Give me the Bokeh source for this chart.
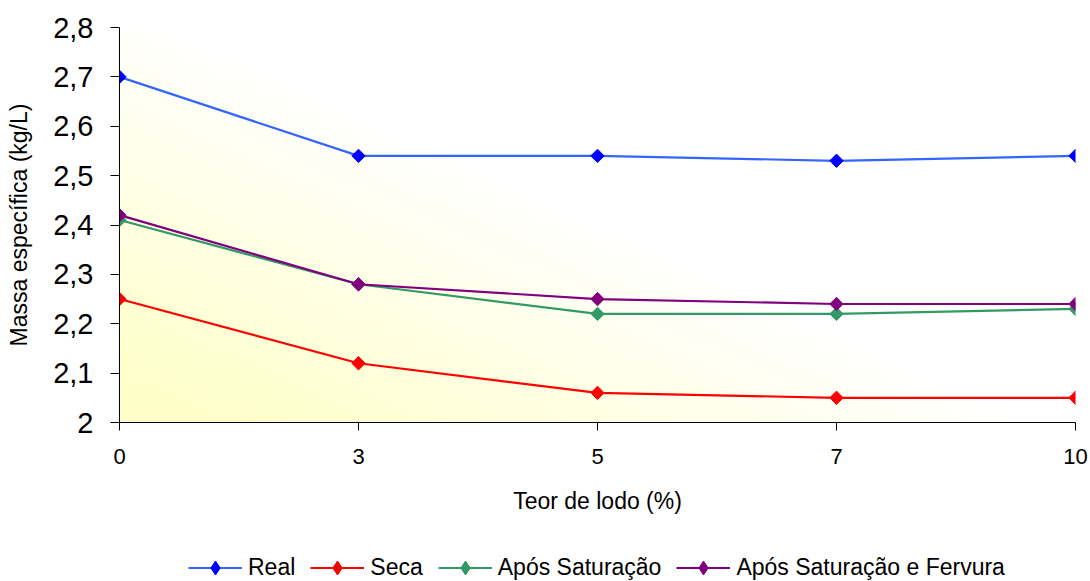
import numpy as np
from bokeh.plotting import figure
from bokeh.layouts import column
from bokeh.models import (Range1d, FixedTicker, CustomJSTickFormatter, Legend, LegendItem)
from bokeh.embed import file_html
from bokeh.resources import INLINE

# Teor de lodo (%) - categories drawn at equal spacing
teor = ["0", "3", "5", "7", "10"]

# Massa específica (kg/L)
real = [2.70, 2.54, 2.54, 2.53, 2.54]
seca = [2.25, 2.12, 2.06, 2.05, 2.05]
apos_sat = [2.41, 2.28, 2.22, 2.22, 2.23]
apos_sat_ferv = [2.42, 2.28, 2.25, 2.24, 2.24]

series = [
    ("Real", real, "#3366FF", "#0000FF"),
    ("Seca", seca, "#FF0000", "#FF0000"),
    ("Após Saturação", apos_sat, "#339966", "#339966"),
    ("Após Saturação e Fervura", apos_sat_ferv, "#800080", "#800080"),
]

FONT = "Liberation Sans"
W, H_MAIN, H_LEG = 1090, 520, 61
xs = list(range(len(teor)))

p = figure(width=W, height=H_MAIN, output_backend="svg", toolbar_location=None,
           x_range=Range1d(0, len(teor) - 1), y_range=Range1d(2.0, 2.8),
           min_border_left=119, min_border_right=15, min_border_top=27,
           min_border_bottom=98)
p.outline_line_color = None
p.background_fill_color = "white"
p.border_fill_color = "white"
p.xgrid.visible = False
p.ygrid.visible = False

# Diagonal yellow-to-white plot-area fill
gh, gw = 160, 400
u = np.linspace(0, 1, gw)[None, :]
w = np.linspace(0, 1, gh)[:, None]
t = np.clip((u + w * 0.9 - 0.1) / 0.85, 0, 1)
r = np.full((gh, gw), 255, dtype=np.uint32)
g = np.full((gh, gw), 255, dtype=np.uint32)
b = (202 + t * 53).astype(np.uint32)
a = np.full((gh, gw), 255, dtype=np.uint32)
img = (a << 24) | (b << 16) | (g << 8) | r
p.image_rgba(image=[img], x=0, y=2.0, dw=len(teor) - 1, dh=0.8)

for name, vals, lcol, mcol in series:
    p.line(xs, vals, line_color=lcol, line_width=2.2)
    p.scatter(xs, vals, marker="square", angle=np.pi / 4, size=9.5,
              fill_color=mcol, line_color=mcol)

# Axes
p.xaxis.ticker = FixedTicker(ticks=xs)
p.xaxis.major_label_overrides = {i: s for i, s in enumerate(teor)}
p.yaxis.ticker = FixedTicker(ticks=[2.0, 2.1, 2.2, 2.3, 2.4, 2.5, 2.6, 2.7, 2.8])
p.yaxis.formatter = CustomJSTickFormatter(code="""
    const v = Math.round(tick * 10) / 10;
    return (Math.round(v * 10) % 10 === 0) ? v.toFixed(0) : v.toFixed(1).replace('.', ',');
""")

for ax in (p.xaxis[0], p.yaxis[0]):
    ax.axis_line_color = "black"
    ax.axis_line_width = 1
    ax.major_tick_line_color = "black"
    ax.major_tick_in = 0
    ax.minor_tick_line_color = None
    ax.major_label_text_font = FONT
    ax.major_label_text_color = "black"
    ax.axis_label_text_font = FONT
    ax.axis_label_text_font_style = "normal"
    ax.axis_label_text_color = "black"
    ax.axis_label_text_font_size = "23px"

p.xaxis.axis_label = "Teor de lodo (%)"
p.xaxis.major_tick_out = 8
p.xaxis.major_label_standoff = 18
p.xaxis.major_label_text_font_size = "22px"
p.xaxis.axis_label_standoff = 21

p.yaxis.axis_label = "Massa específica (kg/L)"
p.yaxis.major_tick_out = 9
p.yaxis.major_label_standoff = 17
p.yaxis.major_label_text_font_size = "29px"
p.yaxis.axis_label_standoff = 18

# Legend strip under the chart (its frame lines up with the chart's frame)
pl = figure(width=W, height=H_LEG, output_backend="svg", toolbar_location=None,
            x_range=Range1d(0, 1), y_range=Range1d(0, 1),
            x_axis_location=None, y_axis_location=None, min_border=0)
pl.outline_line_color = None
pl.xgrid.visible = False
pl.ygrid.visible = False
pl.background_fill_color = "white"
pl.border_fill_color = "white"

items = []
for name, vals, lcol, mcol in series:
    ln = pl.line(np.array([np.nan]), np.array([np.nan]), line_color=lcol, line_width=2.2)
    mk = pl.scatter(np.array([np.nan]), np.array([np.nan]), marker="diamond", size=14,
                    fill_color=mcol, line_color=mcol)
    items.append(LegendItem(label=name, renderers=[ln, mk]))

legend = Legend(items=items, orientation="horizontal", location=(69, -4),
                padding=0, margin=0, spacing=15, glyph_width=54, glyph_height=35,
                label_standoff=6, label_text_font=FONT, label_text_font_size="23px",
                label_text_color="black", background_fill_alpha=0,
                border_line_color=None)
pl.add_layout(legend, "center")

open("out.html", "w").write(file_html(column(p, pl, spacing=0), INLINE))
